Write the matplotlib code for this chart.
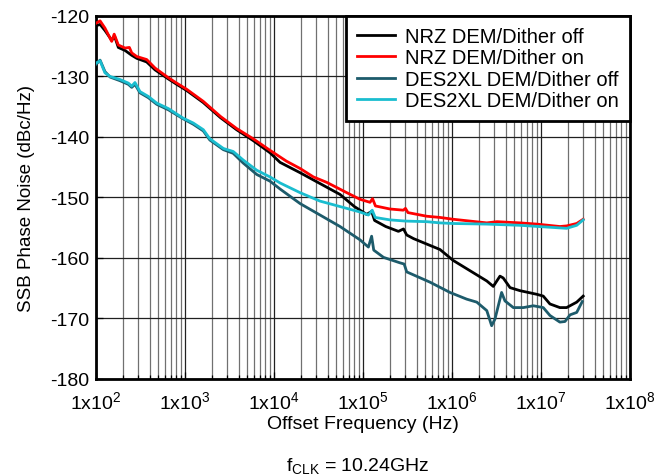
import matplotlib
matplotlib.use("Agg")
import matplotlib.pyplot as plt
from matplotlib.ticker import LogLocator, FixedLocator, NullFormatter

plt.rcParams['font.family'] = ['Liberation Sans', 'DejaVu Sans']
plt.rcParams['mathtext.default'] = 'regular'

# ---------------- data ----------------
nrz_on_f = [100, 111, 126, 150, 160, 178, 212, 237, 252, 287, 371, 460, 649, 807, 1040, 1600,
            2500, 3800, 5840, 9000, 13800, 19600, 27700, 39100, 65600, 92500, 120000, 128000,
            138000, 200000, 284000, 300000, 320000, 520000, 733000, 1.03e6, 2.46e6, 3.2e6,
            5.8e6, 8.95e6, 1.63e7, 1.94e7, 2.52e7, 2.98e7]
nrz_on_db = [-121.2, -120.8, -122.0, -124.2, -123.0, -124.8, -125.3, -125.2, -126.1, -126.7,
             -127.2, -128.6, -130.2, -131.1, -132.1, -134.1, -136.6, -138.6, -140.3, -142.2,
             -144.0, -145.2, -146.6, -147.5, -149.2, -150.3, -150.8, -150.2, -151.4, -151.9,
             -152.1, -151.8, -152.5, -153.1, -153.3, -153.6, -154.2, -154.0, -154.2, -154.4,
             -154.8, -154.7, -154.3, -153.6]

nrz_off_f = [100, 111, 126, 150, 162, 178, 212, 252, 287, 371, 460, 649, 807, 1040, 1600, 2500,
             3800, 5840, 9000, 11700, 19600, 32900, 55200, 80000, 110000, 125000, 135000,
             180000, 250000, 285000, 310000, 370000, 520000, 733000, 1.03e6, 2.46e6, 2.91e6,
             3.46e6, 3.76e6, 4.49e6, 5.8e6, 8.95e6, 1.06e7, 1.26e7, 1.63e7, 1.94e7, 2.52e7, 2.98e7]
nrz_off_db = [-121.6, -121.4, -122.4, -124.0, -123.4, -125.2, -125.7, -126.5, -127.0, -127.6,
              -128.9, -130.4, -131.3, -132.3, -134.3, -136.8, -138.8, -140.6, -142.6, -144.2,
              -145.9, -147.7, -149.5, -151.5, -152.8, -152.3, -153.8, -154.8, -155.6, -155.2,
              -156.2, -156.8, -157.7, -158.6, -160.4, -163.8, -164.7, -163.0, -163.3, -164.9,
              -165.4, -166.0, -166.3, -167.6, -168.2, -168.2, -167.3, -166.3]

des_on_f = [100, 111, 126, 144, 186, 231, 252, 274, 312, 387, 481, 649, 955, 1240, 1606, 1900,
            2700, 3480, 4500, 6400, 9000, 11700, 19600, 32900, 55200, 92500, 115000, 127000,
            137000, 200000, 300000, 520000, 733000, 1.03e6, 2.46e6, 5.8e6, 1.2e7, 1.94e7,
            2.52e7, 2.98e7]
des_on_db = [-127.8, -127.4, -129.4, -130.0, -130.5, -131.1, -131.6, -131.0, -132.5, -133.3,
             -134.4, -135.3, -136.9, -137.7, -138.8, -140.3, -141.9, -142.4, -143.8, -145.5,
             -146.6, -147.6, -149.2, -150.6, -151.5, -152.4, -152.9, -152.1, -153.3, -153.7,
             -153.9, -154.0, -154.2, -154.3, -154.4, -154.6, -154.9, -155.1, -154.6, -153.7]

des_off_f = [100, 111, 126, 144, 186, 231, 252, 274, 312, 387, 481, 649, 955, 1240, 1606, 1900,
             2700, 3480, 4500, 6400, 9000, 11700, 19600, 32900, 55200, 92500, 115000, 125000,
             132000, 170000, 260000, 290000, 310000, 566000, 950000, 1.46e6, 1.9e6, 2.46e6,
             2.79e6, 3.04e6, 3.61e6, 3.94e6, 4.89e6, 6.33e6, 8.2e6, 1.06e7, 1.26e7, 1.63e7,
             1.86e7, 2.12e7, 2.52e7, 2.91e7]
des_off_db = [-128.0, -127.3, -129.2, -130.1, -130.7, -131.3, -131.8, -131.3, -132.7, -133.5,
              -134.6, -135.5, -137.0, -137.9, -139.0, -140.5, -142.1, -142.7, -144.3, -146.2,
              -147.3, -148.6, -151.0, -152.9, -154.8, -157.0, -158.2, -156.4, -158.7, -159.9,
              -160.8, -161.0, -162.3, -164.0, -165.7, -166.8, -167.3, -168.7, -171.2, -170.1,
              -165.7, -167.1, -168.2, -168.2, -167.9, -168.2, -169.5, -170.6, -170.5, -169.4,
              -169.0, -167.2]

labels = ['NRZ DEM/Dither off', 'NRZ DEM/Dither on', 'DES2XL DEM/Dither off', 'DES2XL DEM/Dither on']
colors = ['#000000', '#FF0000', '#1D5B6B', '#1ABDCF']
y_ticks = [-180, -170, -160, -150, -140, -130, -120]
x_ticks = [1e2, 1e3, 1e4, 1e5, 1e6, 1e7, 1e8]
x_tick_labels = [r'1x10$^{2}$', r'1x10$^{3}$', r'1x10$^{4}$', r'1x10$^{5}$',
                 r'1x10$^{6}$', r'1x10$^{7}$', r'1x10$^{8}$']

# ---------------- plot ----------------
fig = plt.figure(figsize=(6.55, 4.77), dpi=100)
ax = fig.add_axes([0.1466, 0.2034, 0.8152, 0.761])

series = [(nrz_off_f, nrz_off_db), (nrz_on_f, nrz_on_db), (des_off_f, des_off_db), (des_on_f, des_on_db)]
for (f, d), lab, c in zip(series, labels, colors):
    ax.plot(f, d, color=c, lw=2.0, label=lab, zorder=3)

ax.set_xscale('log')
ax.set_xlim(1e2, 1e8)
ax.set_ylim(-180, -120)
ax.xaxis.set_major_locator(FixedLocator(x_ticks))
ax.set_xticklabels(x_tick_labels)
ax.xaxis.set_minor_locator(LogLocator(base=10, subs=range(2, 10), numticks=20))
ax.xaxis.set_minor_formatter(NullFormatter())
ax.set_yticks(y_ticks)
ax.set_yticklabels([str(v) for v in y_ticks])

ax.grid(True, which='major', axis='both', color='#202020', lw=0.9, zorder=1)
ax.grid(True, which='minor', axis='x', color='#707070', lw=0.9, zorder=1)

ax.tick_params(axis='both', which='major', direction='in', length=5, width=0.9,
               labelsize=14, colors='black')
ax.tick_params(axis='x', which='major', pad=8)
ax.tick_params(axis='y', which='major', pad=5)
ax.tick_params(axis='x', which='minor', direction='in', length=3, width=0.9)
for s in ax.spines.values():
    s.set_linewidth(2)
    s.set_color('black')

ax.set_xlabel('Offset Frequency (Hz)', fontsize=14, labelpad=2)
ax.set_ylabel('SSB Phase Noise (dBc/Hz)', fontsize=13.5, labelpad=11)

leg = ax.legend(loc='upper right', fontsize=14.5, frameon=True, fancybox=False,
                framealpha=1, edgecolor='black', borderpad=0.55, handlelength=1.9,
                handletextpad=0.5, labelspacing=0.12, borderaxespad=0.0)
leg.get_frame().set_linewidth(2)
leg.set_zorder(5)

fig.text(0.546, 0.024, r'f$_{CLK}$ = 10.24GHz', ha='center', va='center', fontsize=14)

fig.savefig('out.png', dpi=100)
